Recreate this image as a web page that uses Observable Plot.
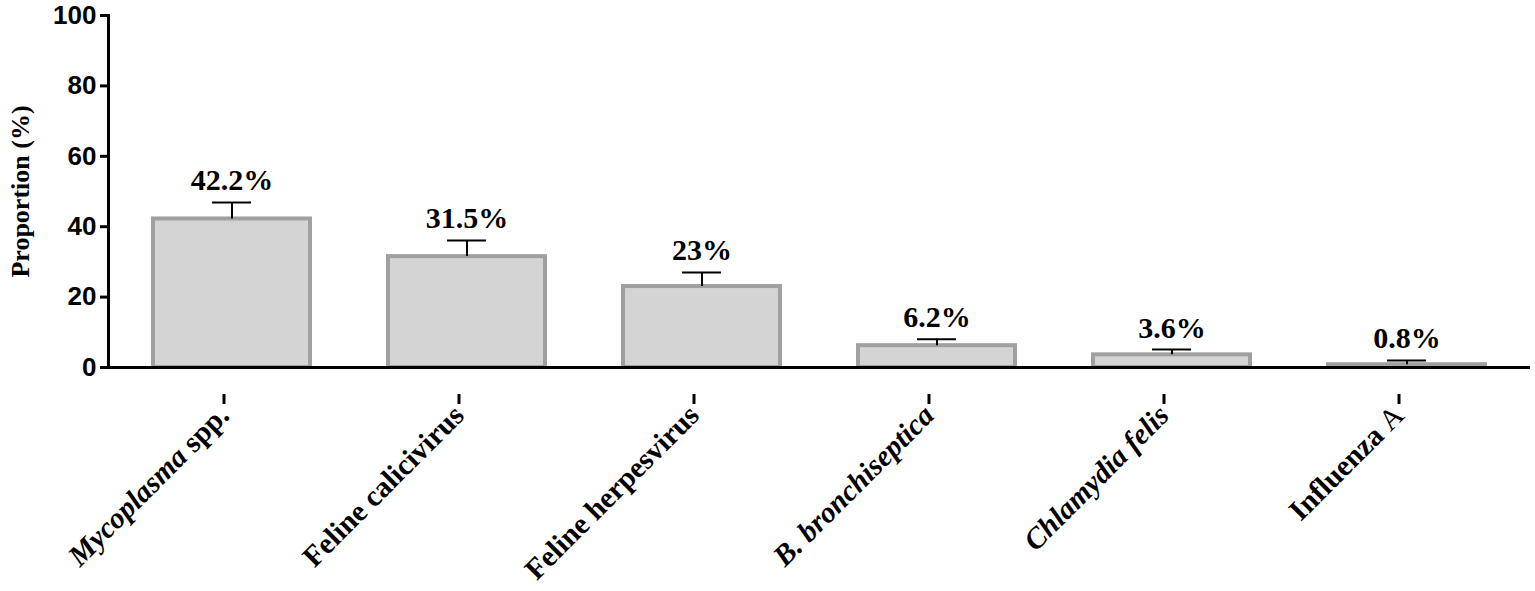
<!DOCTYPE html>
<html>
<head>
<meta charset="utf-8">
<script src="https://cdn.jsdelivr.net/npm/d3@7"></script>
<script src="https://cdn.jsdelivr.net/npm/@observablehq/plot@0.6"></script>
<style>
  html, body { margin: 0; padding: 0; background: #fff; }
  #chart svg { display: block; }
</style>
</head>
<body>
<div id="chart"></div>
<script>
// Data
const categories = ["Mycoplasma spp.", "Feline calicivirus", "Feline herpesvirus", "B. bronchiseptica", "Chlamydia felis", "Influenza A"];
const proportions = [42.2, 31.5, 23, 6.2, 3.6, 0.8];
const upperErrors = [46.9, 36.1, 27.0, 8.0, 5.1, 2.0];
const valueLabels = ["42.2%", "31.5%", "23%", "6.2%", "3.6%", "0.8%"];
const yTicks = [0, 20, 40, 60, 80, 100];
// label parts: [text, style]
const labelParts = [
  [["Mycoplasma", "italic"], [" spp.", "bold"]],
  [["Feline calicivirus", "bold"]],
  [["Feline herpesvirus", "bold"]],
  [["B. bronchiseptica", "italic"]],
  [["Chlamydia felis", "italic"]],
  [["Influenza ", "bold"], ["A", "thin"]]
];
const yLabel = "Proportion (%)";

const data = categories.map((c, i) => ({
  name: c, value: proportions[i], upper: upperErrors[i], label: valueLabels[i]
}));

const serif = "'Liberation Serif', 'Times New Roman', serif";
const sans = "'Liberation Sans', Arial, sans-serif";

const plot = Plot.plot({
  width: 1535,
  height: 591,
  marginLeft: 108,
  marginTop: 15,
  marginBottom: 224,
  marginRight: 5,
  x: { domain: categories, paddingInner: 0.33, paddingOuter: 0.18, label: null },
  y: { domain: [0, 100], label: null },
  marks: [
    Plot.barY(data, { x: "name", y: "value", fill: "#d4d4d4", stroke: "#a0a0a0", strokeWidth: 4 }),
    Plot.ruleX(data, { x: "name", y1: "value", y2: "upper", stroke: "#000", strokeWidth: 2 }),
    Plot.tickY(data, { x: "name", y: "upper", stroke: "#000", strokeWidth: 2, insetLeft: 59, insetRight: 59 }),
    Plot.text(data, { x: "name", y: "upper", text: "label", dy: -12, lineAnchor: "bottom",
      fontFamily: serif, fontWeight: "bold", fontSize: 30, fill: "#000" }),
    Plot.axisY({ ticks: yTicks, tickSize: 8, strokeWidth: 3, tickPadding: 4, label: null,
      fontFamily: sans, fontWeight: "bold", fontSize: 26, fill: "#000" }),
    Plot.axisX({ tickSize: 10, strokeWidth: 3, tickRotate: -45, tickPadding: 6, label: null,
      dx: -8, dy: 27,
      fontFamily: serif, fontWeight: "bold", fontSize: 29.5, fill: "#000" }),
    Plot.frame({ anchor: "left", stroke: "#000", strokeWidth: 3 }),
    Plot.ruleY([0], { stroke: "#000", strokeWidth: 3 }),
    Plot.text([yLabel], { frameAnchor: "left", rotate: -90, dx: -88, text: d => d, textAnchor: "middle",
      fontFamily: serif, fontWeight: "bold", fontSize: 26, fill: "#000" })
  ]
});

// Rebuild x tick labels with italic parts
d3.select(plot).selectAll('g[aria-label="x-axis tick label"] text').each(function() {
  const t = d3.select(this);
  const idx = categories.indexOf(t.text());
  if (idx < 0) return;
  t.text(null);
  for (const [s, st] of labelParts[idx]) {
    const ts = t.append("tspan").text(s);
    if (st === "italic") ts.attr("font-style", "italic");
    if (st === "thin") ts.attr("font-weight", "normal");
  }
});

document.getElementById("chart").appendChild(plot);
</script>
</body>
</html>
